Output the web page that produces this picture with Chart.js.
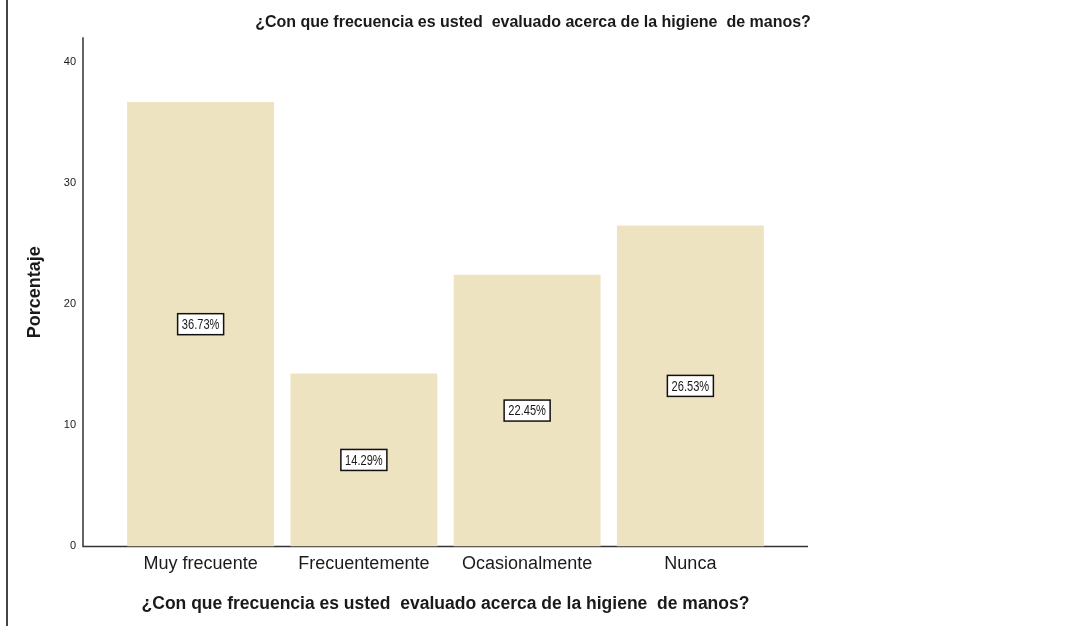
<!DOCTYPE html>
<html>
<head>
<meta charset="utf-8">
<script src="https://cdn.jsdelivr.net/npm/chart.js@4/dist/chart.umd.min.js"></script>
<style>
  html, body { margin: 0; padding: 0; background: #fff; }
  #wrap { position: relative; width: 1066px; height: 626px; }
</style>
</head>
<body>
<div id="wrap"><canvas id="chart" width="1066" height="626"></canvas></div>
<script>
// frequency of hand hygiene evaluation, percent of respondents
const categories = ['Muy frecuente', 'Frecuentemente', 'Ocasionalmente', 'Nunca'];
const percentages = [36.73, 14.29, 22.45, 26.53];
const valueLabels = ['36.73%', '14.29%', '22.45%', '26.53%'];
const yTicks = [0, 10, 20, 30, 40];

const question = '¿Con que frecuencia es usted  evaluado acerca de la higiene  de manos?';
const FONT = '"Liberation Sans", Arial, sans-serif';
const INK = '#1a1a1a';
const AXIS_EXT = 36; // axis lines run past the outer bars

// SPSS style axis lines, drawn under the bars
const axisLines = {
  id: 'axisLines',
  beforeDatasetsDraw(chart) {
    const { ctx, chartArea: a } = chart;
    ctx.save();
    ctx.strokeStyle = '#333';
    ctx.lineWidth = 1.5;
    ctx.beginPath();
    ctx.moveTo(a.left - AXIS_EXT, a.top - 1);
    ctx.lineTo(a.left - AXIS_EXT, a.bottom);
    ctx.lineTo(a.right + AXIS_EXT, a.bottom);
    ctx.stroke();
    ctx.restore();
  },
  afterDraw(chart) {
    // page frame line on the left
    const { ctx } = chart;
    ctx.save();
    ctx.strokeStyle = '#444';
    ctx.lineWidth = 2;
    ctx.beginPath();
    ctx.moveTo(7, 0);
    ctx.lineTo(7, 626);
    ctx.stroke();
    ctx.restore();
  }
};

// boxed value labels in the middle of each bar (squeezed text like the SPSS export)
const boxLabels = {
  id: 'boxLabels',
  afterDatasetsDraw(chart) {
    const { ctx } = chart;
    const bars = chart.getDatasetMeta(0).data;
    bars.forEach((bar, i) => {
      const x = bar.x;
      const y = (bar.y + bar.base) / 2;
      const w = 46, h = 21;
      ctx.save();
      ctx.fillStyle = '#fff';
      ctx.fillRect(x - w / 2, y - h / 2, w, h);
      ctx.strokeStyle = '#111';
      ctx.lineWidth = 1.5;
      ctx.strokeRect(x - w / 2, y - h / 2, w, h);
      ctx.translate(x, y + 0.5);
      ctx.scale(0.74, 1);
      ctx.font = '15px ' + FONT;
      ctx.textAlign = 'center';
      ctx.textBaseline = 'middle';
      ctx.fillStyle = INK;
      ctx.fillText(valueLabels[i], 0, 0);
      ctx.restore();
    });
  }
};

new Chart(document.getElementById('chart'), {
  type: 'bar',
  data: {
    labels: categories,
    datasets: [{
      data: percentages,
      backgroundColor: '#EDE3C1',
      borderWidth: 0,
      barPercentage: 0.9,
      categoryPercentage: 1.0,
    }],
  },
  options: {
    responsive: false,
    animation: false,
    events: [],
    layout: { padding: 0 },
    plugins: {
      legend: { display: false },
      tooltip: { enabled: false },
      title: {
        display: true,
        text: question,
        color: INK,
        font: { family: FONT, size: 16, weight: 'bold' },
        padding: { top: 12.5, bottom: 6.5 },
      },
    },
    scales: {
      x: {
        grid: { display: false, drawTicks: false },
        border: { display: false },
        ticks: { color: INK, font: { family: FONT, size: 18 }, padding: 7 },
        title: {
          display: true,
          text: question,
          color: INK,
          font: { family: FONT, size: 17.5, weight: 'bold' },
          padding: { top: 12, bottom: 11 },
        },
      },
      y: {
        min: 0,
        max: 42,
        afterFit(scale) {
          scale.width = 119;
          // wide tick padding would otherwise push the plot down
          scale.paddingTop = 7;
          scale.paddingBottom = 7;
        },
        afterBuildTicks(scale) { scale.ticks = yTicks.map(v => ({ value: v })); },
        grid: { display: false, drawTicks: false },
        border: { display: false },
        ticks: { color: INK, font: { family: FONT, size: 11 }, padding: 43 },
        title: {
          display: true,
          text: 'Porcentaje',
          color: INK,
          font: { family: FONT, size: 18, weight: 'bold' },
          padding: { top: 24, bottom: 20 },
        },
      },
      // empty right-hand gutter so the chart title centres on the whole page
      gutter: {
        position: 'right',
        afterFit(scale) { scale.width = 294; },
        grid: { display: false, drawTicks: false },
        border: { display: false },
        ticks: { display: false },
      },
    },
  },
  plugins: [axisLines, boxLabels],
});
</script>
</body>
</html>
